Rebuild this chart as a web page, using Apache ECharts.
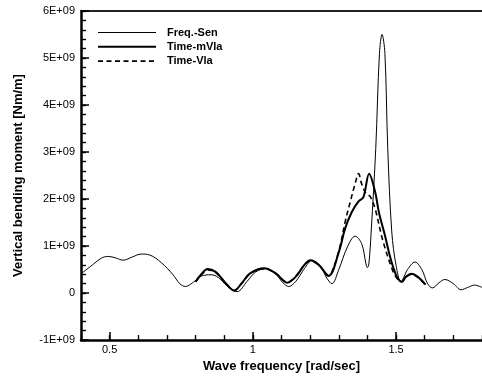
<!DOCTYPE html>
<html>
<head>
<meta charset="utf-8">
<script src="https://cdn.jsdelivr.net/npm/echarts@6/dist/echarts.min.js"></script>
<style>
html,body{margin:0;padding:0;background:#fff;}
#c{width:482px;height:378px;}
</style>
</head>
<body>
<div id="c"></div>
<script>
// Values in units of 1E+09 Nm/m
const freqSen = [
[0.40,0.41],[0.44,0.60],[0.47,0.74],[0.495,0.78],[0.52,0.75],[0.547,0.70],[0.58,0.77],[0.61,0.83],[0.64,0.81],
[0.68,0.65],[0.72,0.40],[0.745,0.20],[0.765,0.14],[0.79,0.22],[0.82,0.36],[0.854,0.39],[0.88,0.33],[0.91,0.15],
[0.945,0.03],[0.98,0.25],[1.01,0.45],[1.045,0.52],[1.08,0.40],[1.105,0.22],[1.125,0.14],[1.15,0.25],[1.18,0.52],
[1.207,0.70],[1.235,0.58],[1.258,0.32],[1.276,0.20],[1.30,0.50],[1.33,0.98],[1.357,1.21],[1.38,1.05],[1.395,0.62],
[1.40,0.54],[1.405,0.62],[1.413,1.3],[1.429,3.07],[1.442,5.1],[1.451,5.5],[1.461,5.1],[1.471,3.07],[1.485,1.3],
[1.50,0.59],[1.517,0.24],[1.54,0.50],[1.566,0.66],[1.59,0.50],[1.61,0.20],[1.627,0.11],[1.65,0.22],[1.67,0.29],
[1.70,0.20],[1.727,0.07],[1.75,0.12],[1.774,0.17],[1.80,0.12]
];
const timeMVla = [
[0.80,0.24],[0.82,0.40],[0.842,0.51],[0.87,0.45],[0.90,0.25],[0.935,0.05],[0.96,0.20],[0.99,0.42],[1.04,0.53],
[1.08,0.42],[1.12,0.22],[1.15,0.35],[1.18,0.60],[1.20,0.70],[1.23,0.60],[1.265,0.37],[1.30,0.87],[1.322,1.37],
[1.345,1.72],[1.369,1.95],[1.386,2.04],[1.406,2.54],[1.427,2.15],[1.44,1.72],[1.461,1.23],[1.475,0.87],
[1.49,0.55],[1.505,0.32],[1.52,0.24],[1.535,0.35],[1.554,0.41],[1.575,0.35],[1.603,0.18]
];
const timeVla = [
[0.80,0.24],[0.82,0.39],[0.842,0.49],[0.87,0.44],[0.90,0.24],[0.935,0.06],[0.96,0.20],[0.99,0.41],[1.04,0.52],
[1.08,0.42],[1.12,0.23],[1.15,0.36],[1.18,0.60],[1.20,0.68],[1.23,0.60],[1.265,0.36],[1.285,0.60],[1.305,1.01],
[1.322,1.51],[1.34,1.94],[1.358,2.35],[1.369,2.54],[1.38,2.32],[1.395,2.12],[1.41,2.05],[1.427,1.79],[1.455,1.09],
[1.49,0.45],[1.505,0.30],[1.52,0.24],[1.535,0.34],[1.554,0.40],[1.575,0.34],[1.603,0.17]
];
const seriesNames = ['Freq.-Sen','Time-mVla','Time-Vla'];
const xTickValues = [0.5, 1, 1.5];
const yTickValues = [-1,0,1,2,3,4,5,6];
const yTickLabels = ['-1E+09','0','1E+09','2E+09','3E+09','4E+09','5E+09','6E+09'];

const FONT = 'Arial, "Liberation Sans", sans-serif';
const chart = echarts.init(document.getElementById('c'), null, {renderer:'canvas'});
chart.setOption({
  animation:false,
  backgroundColor:'#fff',
  grid:{left:81, top:11, right:-2, bottom:37, containLabel:false},
  legend:{
    orient:'vertical', left:97, top:27, itemWidth:58, itemHeight:13, itemGap:3.3, padding:0,
    itemStyle:{opacity:0},
    data:[
      {name:seriesNames[0], lineStyle:{width:1, color:'#000'}},
      {name:seriesNames[1], lineStyle:{width:2, color:'#000'}},
      {name:seriesNames[2], lineStyle:{width:1.6, color:'#000', type:[5,3.5]}}
    ],
    textStyle:{fontFamily:FONT, fontSize:11, fontWeight:'bold', color:'#000', padding:[0,0,0,6]}
  },
  xAxis:[{
    type:'value', min:0.4, max:1.8,
    name:'Wave frequency [rad/sec]', nameLocation:'middle', nameGap:19,
    nameTextStyle:{fontFamily:FONT, fontSize:13, fontWeight:'bold', color:'#000'},
    axisLine:{show:true, onZero:false, lineStyle:{color:'#000', width:2.5}},
    axisTick:{show:true, inside:true, length:8, customValues:xTickValues, lineStyle:{color:'#000', width:1.5}},
    axisLabel:{customValues:xTickValues, margin:4, fontFamily:FONT, fontSize:11, color:'#000',
      formatter:v=>String(v)},
    splitLine:{show:false}
  },{
    type:'value', min:0.4, max:1.8, interval:0.1, position:'bottom',
    axisLine:{show:false, onZero:false},
    axisTick:{show:true, inside:true, length:5, lineStyle:{color:'#000', width:1.4}},
    axisLabel:{show:false}, splitLine:{show:false}
  },{
    type:'value', min:0.4, max:1.8, position:'top',
    axisLine:{show:true, onZero:false, lineStyle:{color:'#222', width:2}},
    axisTick:{show:false}, axisLabel:{show:false}, splitLine:{show:false}
  }],
  yAxis:[{
    type:'value', min:-1, max:6, interval:1,
    name:'Vertical bending moment [Nm/m]', nameLocation:'middle', nameGap:56,
    nameTextStyle:{fontFamily:FONT, fontSize:13, fontWeight:'bold', color:'#000'},
    axisLine:{show:true, onZero:false, lineStyle:{color:'#000', width:2.5}},
    axisTick:{show:true, inside:true, length:8, lineStyle:{color:'#000', width:1.5}},
    axisLabel:{margin:6, fontFamily:FONT, fontSize:11, color:'#000',
      formatter:v=>{const i=yTickValues.indexOf(Math.round(v)); return i>=0?yTickLabels[i]:'';}},
    splitLine:{show:false}
  },{
    type:'value', min:-1, max:6, interval:0.2, position:'left',
    axisLine:{show:false, onZero:false},
    axisTick:{show:true, inside:true, length:5, lineStyle:{color:'#000', width:1.4}},
    axisLabel:{show:false}, splitLine:{show:false}
  }],
  series:[
    {name:seriesNames[0], type:'line', data:freqSen, symbol:'none', smooth:0.35, xAxisIndex:0, yAxisIndex:0,
     lineStyle:{color:'#000', width:1}, itemStyle:{color:'#000'}},
    {name:seriesNames[1], type:'line', data:timeMVla, symbol:'none', smooth:0.35, xAxisIndex:0, yAxisIndex:0,
     lineStyle:{color:'#000', width:2}, itemStyle:{color:'#000'}},
    {name:seriesNames[2], type:'line', data:timeVla, symbol:'none', smooth:0.35, xAxisIndex:0, yAxisIndex:0,
     lineStyle:{color:'#000', width:1.6, type:[5,3.5]}, itemStyle:{color:'#000'}}
  ]
});
</script>
</body>
</html>
